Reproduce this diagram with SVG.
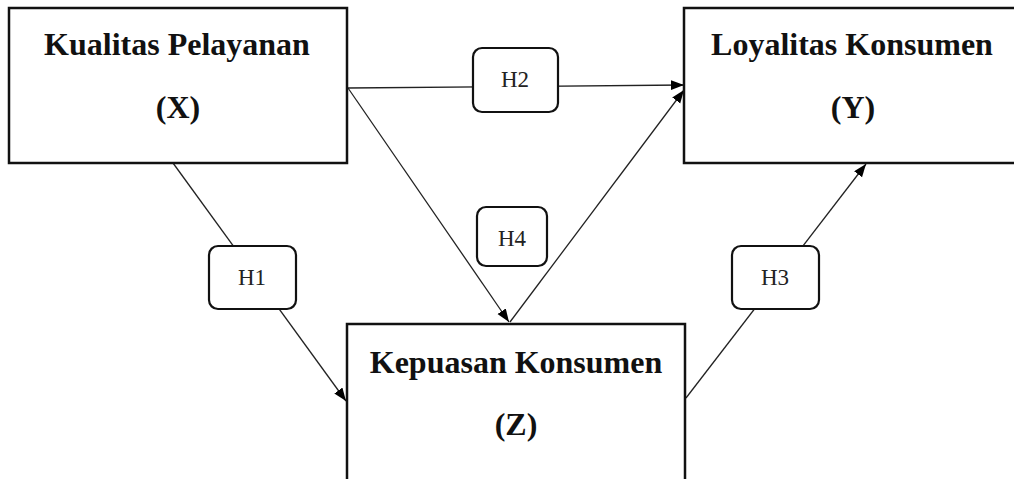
<svg xmlns="http://www.w3.org/2000/svg" width="1014" height="479" viewBox="0 0 1014 479">
<style>
.box{fill:#fff;stroke:#111;stroke-width:2.5}
.hb{fill:#fff;stroke:#111;stroke-width:2.2}
.t{font-family:"Liberation Serif","Times New Roman",serif;font-weight:bold;font-size:32px;fill:#111;text-anchor:middle}
.h{font-family:"Liberation Serif","Times New Roman",serif;font-size:23px;fill:#222;text-anchor:middle}
.c{stroke:#222;stroke-width:1.3;fill:none;marker-end:url(#arr)}
</style>
<defs>
<marker id="arr" markerUnits="userSpaceOnUse" markerWidth="16" markerHeight="12" refX="13" refY="5" orient="auto">
<path d="M0,0 L13,5 L0,10 z" fill="#000"/>
</marker>
</defs>
<rect width="1014" height="479" fill="#fff"/>
<g id="connectors">
<line class="c" x1="173" y1="163" x2="346" y2="401"/>
<line class="c" x1="348" y1="88" x2="684" y2="85"/>
<line class="c" x1="348" y1="88" x2="509" y2="322"/>
<line class="c" x1="510" y1="322" x2="684" y2="90"/>
<line class="c" x1="686" y1="398" x2="866" y2="164"/>
</g>
<g id="nodeX">
<rect class="box" x="9" y="8" width="338" height="155"/>
<text class="t" x="177" y="55">Kualitas Pelayanan</text>
<text class="t" x="178" y="118">(X)</text>
</g>
<g id="nodeY">
<rect class="box" x="684" y="8" width="340" height="155"/>
<text class="t" x="852" y="55">Loyalitas Konsumen</text>
<text class="t" x="853" y="118">(Y)</text>
</g>
<g id="nodeZ">
<rect class="box" x="347" y="324" width="338" height="170"/>
<text class="t" x="516" y="373">Kepuasan Konsumen</text>
<text class="t" x="516" y="435">(Z)</text>
</g>
<g id="H1">
<rect class="hb" x="209" y="246" width="87" height="63" rx="9"/>
<text class="h" x="252" y="285">H1</text>
</g>
<g id="H2">
<rect class="hb" x="473" y="48" width="85" height="64" rx="9"/>
<text class="h" x="515" y="87">H2</text>
</g>
<g id="H3">
<rect class="hb" x="732" y="246" width="87" height="63" rx="9"/>
<text class="h" x="775" y="285">H3</text>
</g>
<g id="H4">
<rect class="hb" x="477" y="207" width="70" height="59" rx="9"/>
<text class="h" x="512" y="246">H4</text>
</g>
</svg>
